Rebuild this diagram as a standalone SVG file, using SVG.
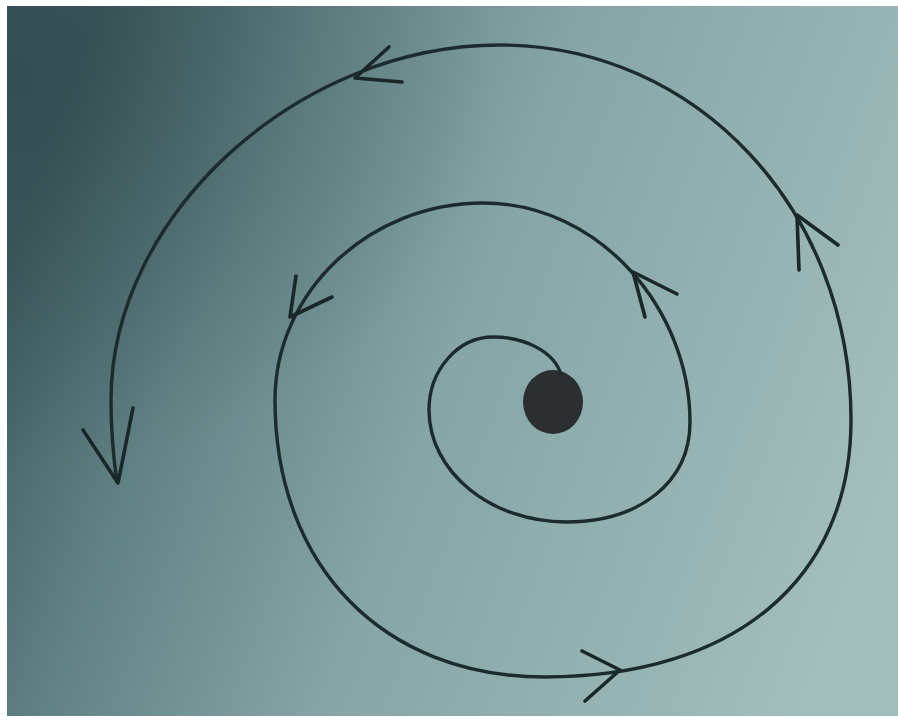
<svg xmlns="http://www.w3.org/2000/svg" width="898" height="722" viewBox="0 0 898 722">
  <defs>
    <linearGradient id="bg" x1="0" y1="0.35" x2="1" y2="0.65">
      <stop offset="0" stop-color="#3e5c60"/>
      <stop offset="0.22" stop-color="#628386"/>
      <stop offset="0.5" stop-color="#85a5a6"/>
      <stop offset="1" stop-color="#a2bebd"/>
    </linearGradient>
    <radialGradient id="vig" cx="0" cy="0.1" r="0.55">
      <stop offset="0" stop-color="#22393d" stop-opacity="0.4"/>
      <stop offset="1" stop-color="#22393d" stop-opacity="0"/>
    </radialGradient>
    <style>
      .line { fill: none; stroke: #1c2b2d; stroke-width: 3.4; stroke-linecap: round; stroke-linejoin: round; }
      .head { fill: none; stroke: #1a2729; stroke-width: 3.6; stroke-linecap: round; stroke-linejoin: round; }
    </style>
  </defs>
  <rect width="898" height="722" fill="#ffffff"/>
  <rect x="7" y="6" width="891" height="710" fill="url(#bg)"/>
  <rect x="7" y="6" width="891" height="710" fill="url(#vig)"/>

  <g id="center-dot">
    <ellipse cx="553" cy="402" rx="30" ry="32" fill="#2c2f31"/>
  </g>

  <g id="connectors">
    <path class="line" d="M 561 375 C 555 352 525 337 493 337
      C 458 337 429 370 429 410
      C 429 472 491 522 566 522
      C 640 522 690 482 690 422
      C 690 310 600 203 483 203
      C 369 203 275 292 275 400
      C 275 566 383 677 545 677
      C 735 677 851 579 851 420
      C 851 210 697 45 500 45
      C 298 45 111 215 111 400
      C 111 430 113 455 117 482"/>
    <path class="head" d="M 645 317 L 633 272 L 677 294"/>
    <path class="head" d="M 296 276 L 290 317 L 332 297"/>
    <path class="head" d="M 582 651 L 620 670 L 585 701"/>
    <path class="head" d="M 799 270 L 797 215 L 838 245"/>
    <path class="head" d="M 389 47 L 355 78 L 402 82"/>
    <path class="head" d="M 83 430 L 118 483 L 133 408"/>
  </g>
</svg>
